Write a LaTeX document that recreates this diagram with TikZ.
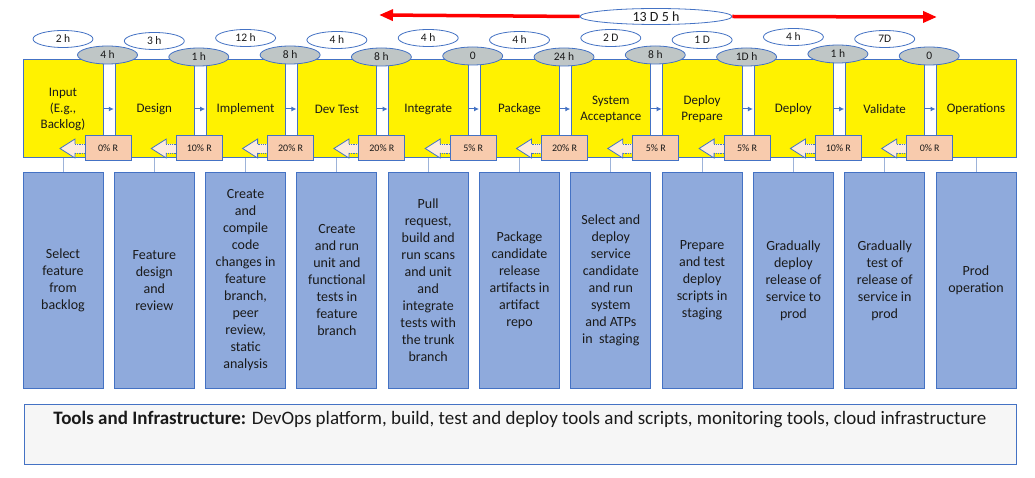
\documentclass[tikz,border=0pt]{standalone}
\usepackage{fontspec}
\setmainfont{Carlito}
\usetikzlibrary{arrows.meta,shapes.geometric,calc}
\definecolor{bord}{HTML}{4472C4}
\definecolor{boxblue}{HTML}{8FAADC}
\definecolor{peach}{HTML}{F8CBAD}
\definecolor{peachlt}{HTML}{FCEBDF}
\definecolor{greyell}{HTML}{BFC6C6}
\definecolor{linkc}{HTML}{9DB3D9}
\definecolor{toolsfill}{HTML}{F6F6F6}
\definecolor{txt}{HTML}{1A1A1A}
\definecolor{redline}{HTML}{FF0000}
\begin{document}
\begin{tikzpicture}[x=1pt,y=-1pt,
  stagebox/.style={draw=bord, line width=1pt, fill=yellow, minimum width=80pt, minimum height=98pt, inner sep=1pt, align=center, text=txt, font=\fontsize{13}{16}\selectfont},
  descbox/.style={draw=bord, line width=1pt, fill=boxblue, minimum width=80pt, minimum height=215pt, inner sep=1pt, align=center, text=txt, font=\fontsize{14}{17}\selectfont},
  stripbox/.style={draw=bord, line width=1pt, fill=white, minimum width=12pt, minimum height=76pt, inner sep=0pt},
  waitell/.style={ellipse, draw=bord, line width=0.8pt, fill=greyell, minimum width=60pt, minimum height=18pt, inner sep=0pt, text=txt, font=\fontsize{11.5}{12}\selectfont},
  procell/.style={ellipse, draw=bord, line width=0.8pt, fill=white, minimum width=60pt, minimum height=17pt, inner sep=0pt, text=txt, font=\fontsize{11.5}{12}\selectfont},
  reworkbox/.style={draw=bord, line width=1pt, fill=peach, minimum width=46pt, minimum height=25pt, inner sep=0pt, text=txt, font=\fontsize{10}{11}\selectfont},
  flowarrow/.style={draw=bord, line width=1pt, -{Latex[length=5pt,width=5pt]}},
  linkline/.style={draw=linkc, line width=0.9pt},
  redarrow/.style={draw=redline, line width=3.5pt, -{Triangle[length=14pt,width=11pt]}},
]
\useasboundingbox (0,0) rectangle (1035,478);
\fill[white] (0,0) rectangle (1035,478);

% stages and descriptions
\foreach \i/\ylab/\btxt in {
  0/{Input\\(E.g.,\\Backlog)}/{Select\\feature\\from\\backlog},
  1/{Design}/{Feature\\design\\and\\review},
  2/{Implement}/{Create\\and\\compile\\code\\changes in\\feature\\branch,\\peer\\review,\\static\\analysis},
  3/{Dev Test}/{Create\\and run\\unit and\\functional\\tests in\\feature\\branch},
  4/{Integrate}/{Pull\\request,\\build and\\run scans\\and unit\\and\\integrate\\tests with\\the trunk\\branch},
  5/{Package}/{Package\\candidate\\release\\artifacts in\\artifact\\repo},
  6/{System\\Acceptance}/{Select and\\deploy\\service\\candidate\\and run\\system\\and ATPs\\in~ staging},
  7/{Deploy\\Prepare}/{Prepare\\and test\\deploy\\scripts in\\staging},
  8/{Deploy}/{Gradually\\deploy\\release of\\service to\\prod},
  9/{Validate}/{Gradually\\test of\\release of\\service in\\prod},
  10/{Operations}/{Prod\\operation}}{
  \pgfmathsetmacro\cx{63+91.3*\i}
  \node[stagebox] (y\i) at (\cx,109) {\ylab};
  \node[descbox] (b\i) at (\cx,280.5) {\btxt};
  \draw[linkline] (y\i.south) -- (b\i.north);
}

% processing time ellipses
\foreach \i/\wlab/\wy in {0/2 h/39, 1/3 h/41, 2/12 h/38, 3/4 h/40, 4/4 h/38, 5/4 h/40, 6/2 D/38, 7/1 D/40, 8/4 h/37, 9/7D/39}{
  \pgfmathsetmacro\cx{63+91.3*\i}
  \node[procell] (w\i) at (\cx,\wy) {\wlab};
}

% strips, wait times, rework
\foreach \i/\glab/\gy/\rlab in {0/4 h/55/0\% R, 1/1 h/57/10\% R, 2/8 h/55/20\% R, 3/8 h/57/20\% R, 4/0/56/5\% R, 5/24 h/57/20\% R, 6/8 h/55/5\% R, 7/1D h/57/5\% R, 8/1 h/54/10\% R, 9/0/56/0\% R}{
  \pgfmathsetmacro\sx{109+91.3*\i}
  \pgfmathtruncatemacro\j{\i+1}
  \node[stripbox] (s\i) at (\sx,98) {};
  \draw[flowarrow] (y\i) -- (y\j);
  \node[waitell] (g\i) at (\sx-1.5,\gy) {\glab};
  \coordinate (rc\i) at (\sx-1,148.5);
  % hollow left block arrow
  \fill[peachlt] ($(rc\i)+(-48,0)$) -- ++(15,-9.5) -- ++(0,5) -- ++(12,0) -- ++(0,9) -- ++(-12,0) -- ++(0,5) -- cycle;
  \draw[bord, line width=0.8pt] ($(rc\i)+(-33,-4.5)$) -- ++(0,-5) -- ++(-15,9.5) -- ++(15,9.5) -- ++(0,-5);
  \draw[bord, line width=0.8pt, densely dotted] ($(rc\i)+(-33,-4.5)$) -- ++(12,0) ($(rc\i)+(-33,4.5)$) -- ++(12,0);
  \node[reworkbox] (r\i) at (rc\i) {\rlab};
}

% total lead time
\node[procell, minimum width=152pt, minimum height=16pt, font=\fontsize{14}{15}\selectfont] (tot) at (656,16.5) {13 D 5 h};
\coordinate (lend) at (379,15);
\coordinate (rend) at (937,17);
\draw[redarrow] (tot.west) -- (lend);
\draw[redarrow] (tot.east) -- (rend);

% tools
\node[draw=bord, line width=1pt, fill=toolsfill, minimum width=992pt, minimum height=60pt, inner sep=0pt] (tools) at (520,434) {};
\node[text=txt, font=\fontsize{19}{22}\selectfont, inner sep=0pt] (toolstxt) at (520,419) {\textbf{Tools and Infrastructure:} DevOps platform, build, test and deploy tools and scripts, monitoring tools, cloud infrastructure};
\end{tikzpicture}
\end{document}
